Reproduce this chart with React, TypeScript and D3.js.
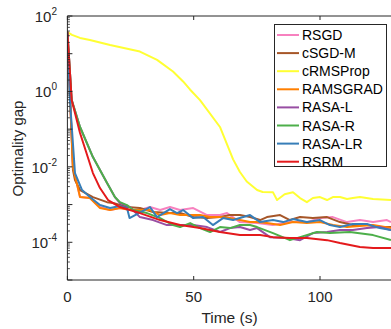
import React, { useEffect, useRef } from "react";
import * as d3 from "d3";

// series: [time (s), optimality gap]
const rsgd: [number, number][] = [[0, 38], [2.2, 0.0099], [5.0, 0.00158], [8.9, 0.00149], [12.9, 0.000859], [16.9, 0.000715], [20.8, 0.000808], [24.8, 0.000715], [28.7, 0.000715], [32.7, 0.000859], [36.7, 0.000715], [40.6, 0.000859], [44.6, 0.000715], [49.8, 0.000808], [55.3, 0.000527], [60.4, 0.000527], [63.2, 0.000595], [68.3, 0.000343], [75.1, 0.000323], [81.4, 0.000286], [88.1, 0.000343], [94.8, 0.000343], [100, 0.000438], [105.1, 0.000466], [110.7, 0.000343], [115.8, 0.000388], [121, 0.000343], [126.5, 0.000388], [128.1, 0.000343]];
const csgdm: [number, number][] = [[0, 38], [2.2, 0.0082], [3.0, 0.00447], [5.0, 0.00243], [10.1, 0.00158], [15.7, 0.00116], [18.1, 0.0011], [23.6, 0.000859], [28.7, 0.000808], [33.9, 0.000633], [40.6, 0.000595], [44.6, 0.000595], [49.8, 0.000466], [55.3, 0.000438], [60.4, 0.000466], [64.4, 0.000527], [68.3, 0.000527], [72.3, 0.000466], [76.3, 0.000388], [79, 0.000466], [84.2, 0.000527], [88.1, 0.000388], [92.1, 0.000466], [97.2, 0.000438], [102.8, 0.000466], [107.9, 0.000343], [113, 0.000286], [118.6, 0.000286], [123.7, 0.000253], [128.1, 0.000253]];
const crmsprop: [number, number][] = [[0, 37.7], [1.8, 31.5], [5, 26.2], [8.9, 23.2], [16.9, 17.0], [28.7, 11.4], [35.5, 6.88], [41.8, 3.38], [45.8, 1.84], [48.6, 1.11], [52.5, 0.59], [60.4, 0.114], [65.6, 0.0158], [68.3, 0.0073], [71, 0.0041], [75.1, 0.00243], [77.3, 0.00215], [81.4, 0.00211], [83, 0.00132], [86, 0.00187], [89.3, 0.00211], [92.1, 0.00149], [94.8, 0.00116], [97.2, 0.00149], [100, 0.00158], [102.8, 0.00132], [105.1, 0.00158], [107.9, 0.00158], [110.7, 0.0014], [113, 0.00149], [115.8, 0.00158], [121, 0.0014], [128.1, 0.00132]];
const ramsgrad: [number, number][] = [[0, 38], [2.2, 0.0099], [5.0, 0.00158], [8.9, 0.00149], [12.9, 0.000808], [16.9, 0.000715], [20.8, 0.000808], [24.8, 0.000715], [28.7, 0.000715], [32.7, 0.000715], [36.7, 0.000527], [40.6, 0.000595], [44.6, 0.000527], [48.6, 0.000527], [52.5, 0.000527], [56.5, 0.000466], [60.4, 0.000466], [64.4, 0.000438], [68.3, 0.000388], [72.3, 0.000343], [74.7, 0.000343], [79, 0.000323], [84.2, 0.000286], [89.3, 0.000343], [94.8, 0.000323], [100, 0.000343], [105.1, 0.000286], [110.7, 0.000253], [115.8, 0.000269], [121, 0.000286], [128.1, 0.000238]];
const rasal: [number, number][] = [[0, 38], [1.7, 0.59], [5, 0.114], [10.1, 0.0182], [15.7, 0.00372], [18.8, 0.00158], [20.8, 0.0011], [24.8, 0.000859], [28.7, 0.000466], [33.9, 0.000388], [39.4, 0.000286], [44.6, 0.000286], [49.8, 0.000286], [55.3, 0.000253], [60.4, 0.000187], [64.4, 0.000238], [68.3, 0.000253], [72.3, 0.000211], [75.1, 0.000238], [80.2, 0.000137], [86.9, 0.000129], [92.1, 0.000114], [97.2, 0.000175], [102.8, 0.000187], [107.9, 0.000211], [113, 0.000211], [118.6, 0.000238], [123.7, 0.000253], [128.1, 0.000211]];
const rasar: [number, number][] = [[0, 38], [1.7, 0.59], [5, 0.114], [10.1, 0.0182], [15.7, 0.00372], [18.8, 0.00158], [20.8, 0.00116], [23.6, 0.00097], [26, 0.000715], [31.5, 0.000595], [36.7, 0.000438], [41.8, 0.000286], [44.6, 0.000253], [48.6, 0.000323], [52.5, 0.000238], [56.5, 0.000187], [60.4, 0.000253], [64.4, 0.000238], [68.3, 0.000286], [72.3, 0.000286], [75.1, 0.000253], [81.4, 0.000175], [88.1, 0.000114], [92.1, 0.000137], [98.8, 0.000187], [103.9, 0.000175], [111.8, 0.000187], [121, 0.000155], [128.1, 0.000114]];
const rasalr: [number, number][] = [[0, 38], [1.0, 0.59], [3.0, 0.00685], [5.8, 0.00243], [8.9, 0.00158], [12.9, 0.00097], [16.9, 0.000808], [20.8, 0.000912], [23.6, 0.000808], [24.6, 0.000438], [32.7, 0.000859], [35.5, 0.000466], [40.6, 0.00076], [43.4, 0.000595], [45.8, 0.000715], [49.8, 0.000438], [53.7, 0.000466], [57.6, 0.000286], [61.6, 0.000438], [65.6, 0.000388], [72.3, 0.000527], [76.3, 0.000343], [81.4, 0.000388], [85.4, 0.000343], [89.3, 0.000412], [94.8, 0.000343], [100, 0.000388], [103.9, 0.000286], [107.9, 0.000253], [113, 0.000304], [118.6, 0.000304], [123.7, 0.000238], [128.1, 0.000211]];
const rsrm: [number, number][] = [[0, 38], [1.7, 0.59], [5, 0.0788], [10.1, 0.00685], [12.9, 0.00274], [16.1, 0.00132], [20.8, 0.000859], [28.7, 0.000595], [36.7, 0.000388], [44.6, 0.000286], [52.5, 0.000238], [60.4, 0.000187], [68.3, 0.000155], [76.3, 0.000155], [81.4, 0.000137], [88.1, 0.000129], [94.8, 0.000129], [102.8, 0.000114], [107.9, 0.0000952], [115.8, 0.0000746], [121, 0.0000702], [128.1, 0.0000702]];

const names = ["RSGD", "cSGD-M", "cRMSProp", "RAMSGRAD", "RASA-L", "RASA-R", "RASA-LR", "RSRM"];
const colors = ["#F781BF", "#A65628", "#FFFF33", "#FF7F00", "#984EA3", "#4DAF4A", "#377EB8", "#E41A1C"];
const seriesList = [rsgd, csgdm, crmsprop, ramsgrad, rasal, rasar, rasalr, rsrm];

const xTicks = [0, 50, 100];
const yLabelExps = [2, 0, -2, -4];

const W = 391;
const H = 329;
const left = 67.4;
const top = 16;
const bottom = 280;
const font = "Liberation Sans, Arial, sans-serif";

const App = () => {
  const svgRef = useRef<SVGSVGElement>(null);

  useEffect(() => {
    const svg = d3.select(svgRef.current);
    svg.selectAll("*").remove();

    const x = d3.scaleLinear().domain([0, 130]).range([left, left + 130 * 2.526]);
    const y = d3.scaleLog().domain([1e-5, 1e2]).range([bottom, top]);
    const axisColor = "#262626";

    svg.append("clipPath").attr("id", "plotclip")
      .append("rect").attr("x", left).attr("y", top).attr("width", W - left).attr("height", bottom - top);

    // top box line
    svg.append("line").attr("x1", left).attr("x2", W).attr("y1", top).attr("y2", top)
      .attr("stroke", axisColor).attr("stroke-width", 1);

    const line = d3.line<[number, number]>()
      .x((d) => x(d[0]))
      .y((d) => y(d[1]));

    const g = svg.append("g").attr("clip-path", "url(#plotclip)");
    seriesList.forEach((s, i) => {
      g.append("path")
        .attr("d", line(s))
        .attr("fill", "none")
        .attr("stroke", colors[i])
        .attr("stroke-width", 2)
        .attr("stroke-linejoin", "round");
    });

    // y ticks (major + minor, inward)
    for (let e = -5; e <= 2; e++) {
      const yy = y(Math.pow(10, e));
      svg.append("line").attr("x1", left).attr("x2", left + 5).attr("y1", yy).attr("y2", yy)
        .attr("stroke", axisColor).attr("stroke-width", 1);
      if (e < 2) {
        for (let m = 2; m <= 9; m++) {
          const ym = y(m * Math.pow(10, e));
          svg.append("line").attr("x1", left).attr("x2", left + 2.5).attr("y1", ym).attr("y2", ym)
            .attr("stroke", axisColor).attr("stroke-width", 0.8);
        }
      }
    }

    // x ticks bottom and top
    xTicks.forEach((t) => {
      const xx = x(t);
      svg.append("line").attr("x1", xx).attr("x2", xx).attr("y1", bottom).attr("y2", bottom - 4)
        .attr("stroke", axisColor);
      svg.append("line").attr("x1", xx).attr("x2", xx).attr("y1", top).attr("y2", top + 4)
        .attr("stroke", axisColor);
      svg.append("text").attr("x", xx).attr("y", 302).attr("text-anchor", "middle")
        .attr("font-family", font).attr("font-size", 15)
        .attr("fill", axisColor).text(t);
    });

    svg.append("line").attr("x1", left).attr("x2", left).attr("y1", top).attr("y2", bottom)
      .attr("stroke", axisColor);
    svg.append("line").attr("x1", left).attr("x2", W).attr("y1", bottom).attr("y2", bottom)
      .attr("stroke", axisColor);

    yLabelExps.forEach((e) => {
      const t = svg.append("text").attr("x", 57).attr("y", y(Math.pow(10, e)) + 6)
        .attr("text-anchor", "end")
        .attr("font-family", font).attr("font-size", 15)
        .attr("fill", axisColor);
      t.append("tspan").text("10");
      t.append("tspan").attr("dy", -7).attr("font-size", 10).text(String(e));
    });

    svg.append("text").attr("x", 229.5).attr("y", 323).attr("text-anchor", "middle")
      .attr("font-family", font).attr("font-size", 15.5)
      .attr("fill", axisColor).text("Time (s)");

    svg.append("text").attr("transform", `translate(22.5,148.5) rotate(-90)`)
      .attr("text-anchor", "middle")
      .attr("font-family", font).attr("font-size", 15)
      .attr("fill", axisColor).text("Optimality gap");

    // legend
    const lg = svg.append("g");
    lg.append("rect").attr("x", 274.5).attr("y", 24.5).attr("width", 112).attr("height", 142)
      .attr("fill", "#fff").attr("stroke", axisColor).attr("stroke-width", 1);
    names.forEach((n, i) => {
      const cy = 35 + i * 18.1;
      lg.append("line").attr("x1", 277).attr("x2", 299).attr("y1", cy).attr("y2", cy)
        .attr("stroke", colors[i]).attr("stroke-width", 2);
      lg.append("text").attr("x", 302).attr("y", cy + 5)
        .attr("font-family", font).attr("font-size", 14)
        .attr("fill", "#000").text(n);
    });
  }, []);

  return (
    <svg
      ref={svgRef}
      width={W}
      height={H}
      style={{ position: "absolute", left: 0, top: 0, background: "#fff" }}
    />
  );
};

export default App;
